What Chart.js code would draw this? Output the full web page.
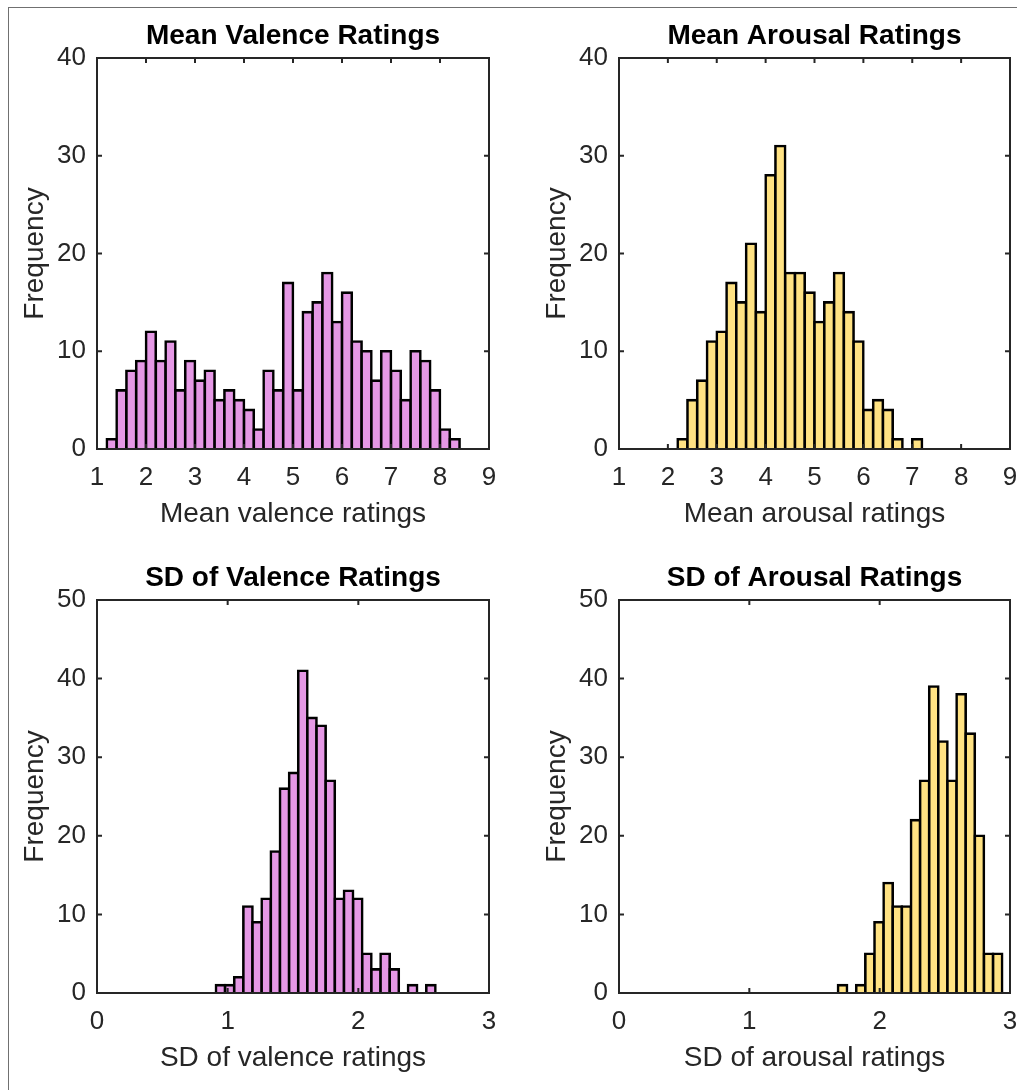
<!DOCTYPE html>
<html>
<head>
<meta charset="utf-8">
<title>Valence and arousal rating histograms</title>
<script src="https://cdn.jsdelivr.net/npm/chart.js@4.4.0/dist/chart.umd.min.js"></script>
<style>
  html, body { margin: 0; padding: 0; background: #fff; }
  body { width: 1017px; height: 1090px; position: relative; overflow: hidden; }
  .frame { position: absolute; left: 8px; top: 7px; width: 1200px; height: 1200px;
           border-top: 1px solid #707070; border-left: 1px solid #707070; }
  canvas { position: absolute; }
</style>
</head>
<body>
<div class="frame"></div>
<canvas id="meanValence" width="520" height="545" style="left:0;top:0"></canvas>
<canvas id="meanArousal" width="495" height="545" style="left:522px;top:0"></canvas>
<canvas id="sdValence" width="520" height="545" style="left:0;top:545px"></canvas>
<canvas id="sdArousal" width="495" height="545" style="left:522px;top:545px"></canvas>
<script>
// histogram counts (300 words each)
const meanValenceCounts = [1,6,8,9,12,9,11,6,9,7,8,5,6,5,4,2,8,6,17,6,14,15,18,13,16,11,10,7,10,8,5,10,9,6,2,1];
const meanArousalCounts = [1,5,7,11,12,17,15,21,14,28,31,18,18,16,13,15,18,14,11,4,5,4,1,0,1];
const sdValenceCounts = [1,1,2,11,9,12,18,26,28,41,35,34,27,12,13,12,5,3,5,3,0,1,0,1];
const sdArousalCounts = [1,0,1,5,9,14,11,11,22,27,39,32,27,38,33,20,5,5];

// first bin edge and bin width of each histogram
const meanValenceBins = [1.2, 0.2];
const meanArousalBins = [2.2, 0.2];
const sdValenceBins = [0.91, 0.07];
const sdArousalBins = [1.68, 0.07];

// axis ticks
const meanTicks = [1,2,3,4,5,6,7,8,9];
const sdTicks = [0,1,2,3];
const meanFreqTicks = [0,10,20,30,40];
const sdFreqTicks = [0,10,20,30,40,50];

const purple = '#e598e5';
const yellow = '#ffe283';
const axisColor = '#262626';

Chart.defaults.font.family = '"Liberation Sans", Arial, Helvetica, sans-serif';
Chart.defaults.color = axisColor;

// MATLAB style box with inward ticks on all four sides, plus the bold title
const boxPlugin = {
  id: 'box',
  afterDatasetsDraw(chart, args, opts) {
    const {ctx, chartArea: a, scales: {x, y}} = chart;
    ctx.save();
    ctx.strokeStyle = axisColor;
    ctx.lineWidth = 2;
    ctx.beginPath();
    x.ticks.forEach(t => {
      const px = x.getPixelForValue(t.value);
      ctx.moveTo(px, a.bottom); ctx.lineTo(px, a.bottom - 5);
      ctx.moveTo(px, a.top); ctx.lineTo(px, a.top + 5);
    });
    y.ticks.forEach(t => {
      const py = y.getPixelForValue(t.value);
      ctx.moveTo(a.left, py); ctx.lineTo(a.left + 5, py);
      ctx.moveTo(a.right, py); ctx.lineTo(a.right - 5, py);
    });
    ctx.stroke();
    ctx.strokeRect(a.left, a.top, a.right - a.left, a.bottom - a.top);

    ctx.fillStyle = '#000';
    ctx.font = 'bold 28px "Liberation Sans", Arial, sans-serif';
    ctx.textAlign = 'center';
    ctx.textBaseline = 'alphabetic';
    ctx.fillText(opts.title, (a.left + a.right) / 2, a.top - 14);
    ctx.restore();
  }
};

function makeHist(id, title, xLabel, counts, bins, xTicks, yTicks, color, top) {
  const [start, width] = bins;
  const points = [];
  counts.forEach((c, i) => {
    if (c > 0) points.push({x: +(start + width * (i + 0.5)).toFixed(4), y: c});
  });
  const rightPad = id.indexOf('Arousal') >= 0 ? 7 : 31;

  new Chart(document.getElementById(id), {
    type: 'bar',
    data: {
      datasets: [{
        data: points,
        backgroundColor: color,
        borderColor: '#000',
        borderWidth: 2.6,
        inflateAmount: 1.3,
        barPercentage: 1,
        categoryPercentage: 1
      }]
    },
    options: {
      responsive: false,
      animation: false,
      events: [],
      layout: {padding: {left: 0, right: rightPad, top: top, bottom: top === 55 ? 7 : 6}},
      plugins: {
        legend: {display: false},
        tooltip: {enabled: false},
        box: {title: title}
      },
      scales: {
        x: {
          type: 'linear',
          offset: false,
          min: xTicks[0],
          max: xTicks[xTicks.length - 1],
          grid: {display: false, drawTicks: false, offset: false},
          border: {display: false},
          afterBuildTicks: s => { s.ticks = xTicks.map(v => ({value: v})); },
          // fixed axis height, and no extra side room for the end labels
          afterFit: s => { s.height = 90; s.paddingLeft = 0; s.paddingRight = 0; },
          ticks: {font: {size: 26}, padding: 13, maxRotation: 0, autoSkip: false},
          title: {display: true, text: xLabel, font: {size: 28}, padding: {top: 0, bottom: 8}}
        },
        y: {
          min: yTicks[0],
          max: yTicks[yTicks.length - 1],
          grid: {display: false, drawTicks: false},
          border: {display: false},
          afterBuildTicks: s => { s.ticks = yTicks.map(v => ({value: v})); },
          afterFit: s => { s.width = 97; },
          ticks: {font: {size: 26}, padding: 11},
          title: {display: true, text: 'Frequency', font: {size: 28}, padding: {top: 18, bottom: 0}}
        }
      }
    },
    plugins: [boxPlugin]
  });
}

makeHist('meanValence', 'Mean Valence Ratings', 'Mean valence ratings',
  meanValenceCounts, meanValenceBins, meanTicks, meanFreqTicks, purple, 58);
makeHist('meanArousal', 'Mean Arousal Ratings', 'Mean arousal ratings',
  meanArousalCounts, meanArousalBins, meanTicks, meanFreqTicks, yellow, 58);
makeHist('sdValence', 'SD of Valence Ratings', 'SD of valence ratings',
  sdValenceCounts, sdValenceBins, sdTicks, sdFreqTicks, purple, 55);
makeHist('sdArousal', 'SD of Arousal Ratings', 'SD of arousal ratings',
  sdArousalCounts, sdArousalBins, sdTicks, sdFreqTicks, yellow, 55);
</script>
</body>
</html>
